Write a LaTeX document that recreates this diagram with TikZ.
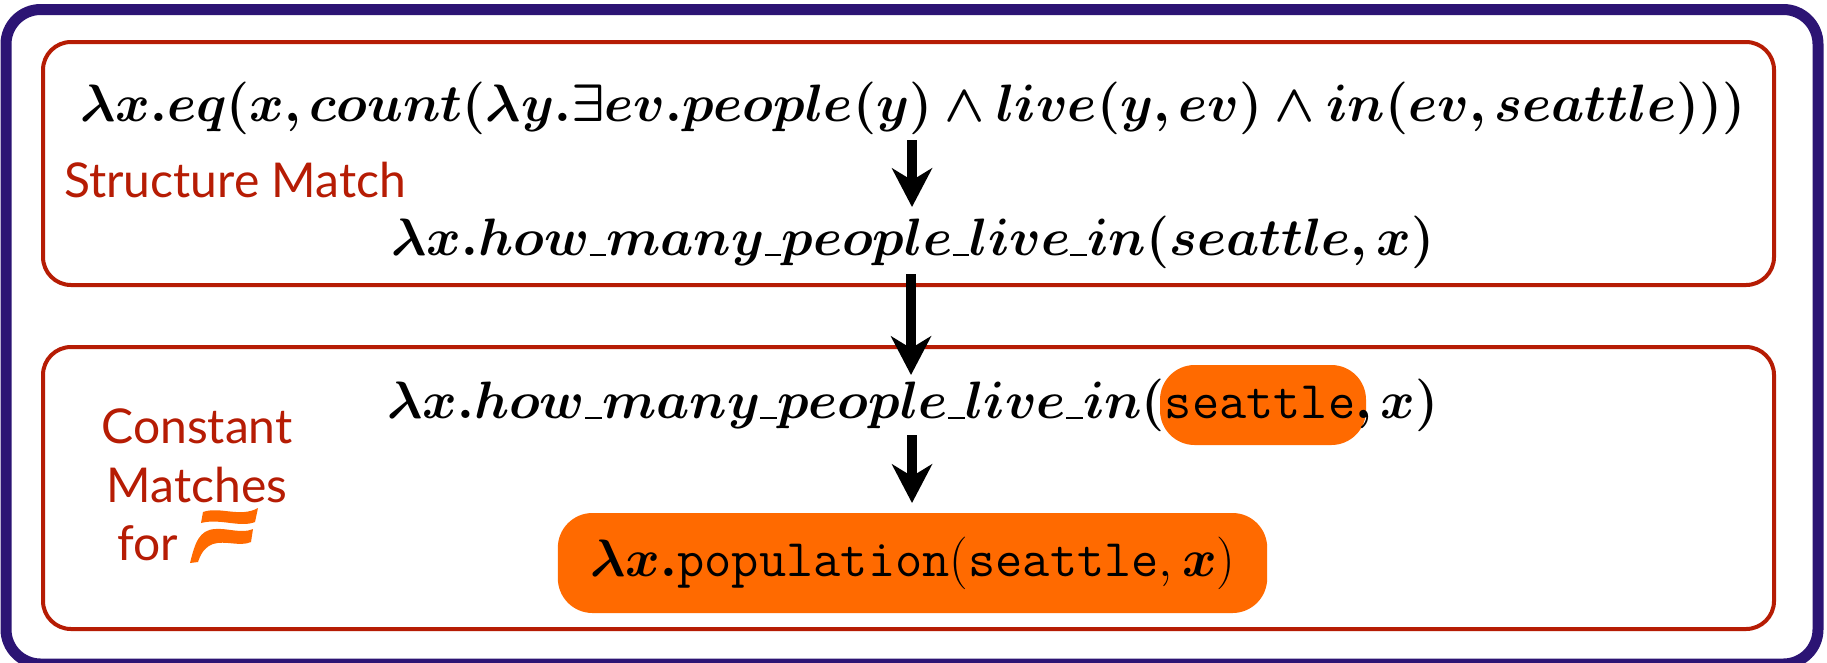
\documentclass[tikz,border=0pt]{standalone}
\usepackage{fontspec}
\usepackage{amsmath,amssymb,bm,graphicx}
\setsansfont{Lato}
\usetikzlibrary{arrows.meta,positioning}
\definecolor{framecol}{RGB}{44,20,116}
\definecolor{matchcol}{RGB}{182,28,4}
\definecolor{hilite}{RGB}{255,106,0}
\newcommand{\usc}{\mathord{\rule[-0.3pt]{8pt}{0.8pt}}}
\newcommand{\bigmath}[1]{\scalebox{1.586}{$#1$}}
\newcommand{\ttname}[1]{\text{\fontsize{25}{25}\selectfont\ttfamily #1}}
\tikzset{
  matchbox/.style={draw=matchcol,line width=3pt,rounded corners=21pt},
  formula/.style={font=\fontsize{24.88}{30}\selectfont,inner sep=0pt},
  tag/.style={font=\sffamily\fontsize{36}{44}\selectfont,text=matchcol,align=center,inner sep=0pt},
  pill/.style={fill=hilite,rounded corners=26pt},
  step arrow/.style={-{Stealth[length=29pt,width=30pt,inset=9pt]},line width=7.5pt},
}
\begin{document}
\begin{tikzpicture}[x=0.75pt,y=-0.75pt,line join=round]
    \useasboundingbox (0,0) rectangle (1827,662);
    \draw[draw=framecol,fill=white,line width=8.25pt,rounded corners=26pt] (6,9.5) rectangle (1818,664);
    \draw[matchbox] (43,42) rectangle (1774,285);
    \draw[matchbox] (43,347) rectangle (1774,629);
    \node[formula] (full) at (913,108) {\bigmath{\bm{\lambda x.eq(x,count(\lambda y.\exists ev.people(y)\wedge live(y,ev)\wedge in(ev,seattle)))}}};
    \node[formula] (slotA) at (913,242) {\bigmath{\bm{\lambda x.how\usc many\usc people\usc live\usc in(seattle,x)}}};
    \node[tag,anchor=west] (structure) at (64,180) {Structure Match};
    \node[tag] (constant) at (197,485) {Constant\\Matches\\for\hspace{74pt}\ };
    \node[pill,minimum width=154.5pt,minimum height=60pt] (seattlepill) at (1263,405) {};
    \node[formula] (slotB) at (913,405) {\bigmath{\bm{\lambda x.how\usc many\usc people\usc live\usc in(}\ttname{seattle}\bm{,x)}}};
    \node[pill,minimum width=532pt,minimum height=75pt] (result) at (912.5,563) {};
    \node[formula] (target) at (913,563) {\bigmath{\bm{\lambda x.}\ttname{population}(\ttname{seattle},\bm{x})}};
    \coordinate (a1) at (912,140);
    \coordinate (a2) at (912,207);
    \coordinate (b1) at (911,274);
    \coordinate (b2) at (911,375);
    \coordinate (c1) at (912,435);
    \coordinate (c2) at (912,503);
    \draw[step arrow] (a1) -- (a2);
    \draw[step arrow] (b1) -- (b2);
    \draw[step arrow] (c1) -- (c2);
    % small flag mark after for
    \fill[hilite] (190,563) .. controls (195,543) and (199,530) .. (215,529) .. controls (228,528) and (242,534) .. (253,529) -- (251,542) .. controls (240,547) and (225,540) .. (213,544) .. controls (205,547) and (201,553) .. (198,562) -- cycle;
    \fill[hilite] (203,512) .. controls (220,506) and (240,518) .. (258,508) -- (255,522) .. controls (240,528) and (220,518) .. (201,523) -- cycle;
\end{tikzpicture}
\end{document}
